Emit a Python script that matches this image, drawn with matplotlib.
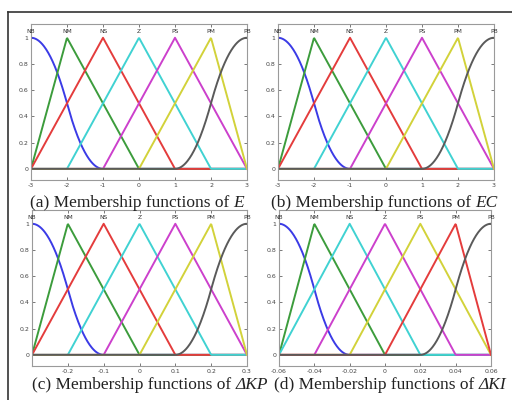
import matplotlib
matplotlib.use("Agg")
import matplotlib.pyplot as plt
import numpy as np
from matplotlib.lines import Line2D

plt.rcParams["axes.unicode_minus"] = False

# membership function labels
mf_names = ["NB", "NM", "NS", "Z", "PS", "PM", "PB"]

# parameters: zmf [a, b], trimf [a, b, c], smf [a, b]
e_params = [[-3, -1], [-3, -2, 0], [-3, -1, 1], [-2, 0, 2], [-1, 1, 3], [0, 2, 3], [1, 3]]
ec_params = [[-3, -1], [-3, -2, 0], [-3, -1, 1], [-2, 0, 2], [-1, 1, 3], [0, 2, 3], [1, 3]]
kp_params = [[-0.3, -0.1], [-0.3, -0.2, 0], [-0.3, -0.1, 0.1], [-0.2, 0, 0.2],
             [-0.1, 0.1, 0.3], [0, 0.2, 0.3], [0.1, 0.3]]
ki_params = [[-0.06, -0.02], [-0.06, -0.04, 0], [-0.06, -0.02, 0.02], [-0.04, 0, 0.04],
             [-0.02, 0.02, 0.06], [0, 0.04, 0.06], [0.02, 0.06]]

e_ticks = [-3, -2, -1, 0, 1, 2, 3]
e_ticklabels = ["-3", "-2", "-1", "0", "1", "2", "3"]
kp_ticks = [-0.2, -0.1, 0, 0.1, 0.2, 0.3]
kp_ticklabels = ["-0.2", "-0.1", "0", "0.1", "0.2", "0.3"]
ki_ticks = [-0.06, -0.04, -0.02, 0, 0.02, 0.04, 0.06]
ki_ticklabels = ["-0.06", "-0.04", "-0.02", "0", "0.02", "0.04", "0.06"]

caption_heads = ["(a) Membership functions of ", "(b) Membership functions of ",
                 "(c) Membership functions of ", "(d) Membership functions of "]
caption_vars = ["E", "EC", "ΔKP", "ΔKI"]

B, G, R, C, M, Y, K = "#3b3be6", "#3c9c3c", "#e43c3c", "#40d2d2", "#cc40cc", "#d2d23a", "#5a5a5a"
colors_abc = [B, G, R, C, M, Y, K]
colors_d = [B, G, C, M, Y, R, K]


def zmf(x, a, b):
    m = (a + b) / 2
    y = np.ones_like(x)
    s1 = (x > a) & (x <= m)
    s2 = (x > m) & (x < b)
    y[s1] = 1 - 2 * ((x[s1] - a) / (b - a)) ** 2
    y[s2] = 2 * ((x[s2] - b) / (b - a)) ** 2
    y[x >= b] = 0
    return y


def smf(x, a, b):
    return 1 - zmf(x, a, b)


def trimf(x, a, b, c):
    return np.clip(np.minimum((x - a) / (b - a), (c - x) / (c - b)), 0, 1)


def mf_value(x, p, i, n):
    if i == 0:
        return zmf(x, *p)
    if i == n - 1:
        return smf(x, *p)
    return trimf(x, *p)


fig = plt.figure(figsize=(5.12, 4.0), dpi=100)

# frame around the screenshot
fig.add_artist(Line2D([8 / 512, 1], [1 - 12 / 400, 1 - 12 / 400], color="#333333", lw=1.2))
fig.add_artist(Line2D([8 / 512, 8 / 512], [0, 1 - 12 / 400], color="#333333", lw=1.2))

panels = [
    (e_params, e_ticks, e_ticklabels, colors_abc, [31, 0.55, 216]),
    (ec_params, e_ticks, e_ticklabels, colors_abc, [278, 0.55, 216]),
    (kp_params, kp_ticks, kp_ticklabels, colors_abc, [32, 0.085, 215]),
    (ki_params, ki_ticks, ki_ticklabels, colors_d, [279, 0.085, 212]),
]

for params, ticks, ticklabels, cols, pos in panels:
    ax = fig.add_axes([pos[0] / 512, pos[1], pos[2] / 512, 0.39])
    lo = params[0][0]
    hi = params[-1][-1]
    x = np.linspace(lo, hi, 400)
    n = len(params)
    for i, p in enumerate(params):
        ax.plot(x, mf_value(x, p, i, n), color=cols[i], lw=1.4)
        peak = p[0] if i == 0 else (p[-1] if i == n - 1 else p[1])
        ax.text(peak, 1.05, mf_names[i], ha="center", va="center", fontsize=4.3, color="#333333")
    ax.set_xlim(lo, hi)
    ax.set_ylim(-0.085, 1.105)
    ax.set_xticks(ticks)
    ax.set_xticklabels(ticklabels)
    ax.set_yticks([0, 0.2, 0.4, 0.6, 0.8, 1])
    ax.set_yticklabels(["0", "0.2", "0.4", "0.6", "0.8", "1"])
    ax.tick_params(direction="in", length=2, width=0.5, labelsize=4.5, colors="#444444",
                   top=True, right=True, pad=2)
    for s in ax.spines.values():
        s.set_color("#9a9a9a")
        s.set_linewidth(0.8)

# captions: upright head + italic variable name
renderer = fig.canvas.get_renderer()
caption_pos = [(137, 207), (384, 207), (150, 389), (390, 389)]
for (cx, cy), head, var in zip(caption_pos, caption_heads, caption_vars):
    kw = dict(va="baseline", fontsize=12.5, family="Liberation Serif", color="#222222")
    t1 = fig.text(0, 1 - cy / 400, head, ha="left", **kw)
    t2 = fig.text(0, 1 - cy / 400, var, ha="left", style="italic", **kw)
    w1 = t1.get_window_extent(renderer).width
    w2 = t2.get_window_extent(renderer).width
    left = cx - (w1 + w2) / 2
    t1.set_x(left / 512)
    t2.set_x((left + w1) / 512)

fig.savefig("out.png", dpi=100)
